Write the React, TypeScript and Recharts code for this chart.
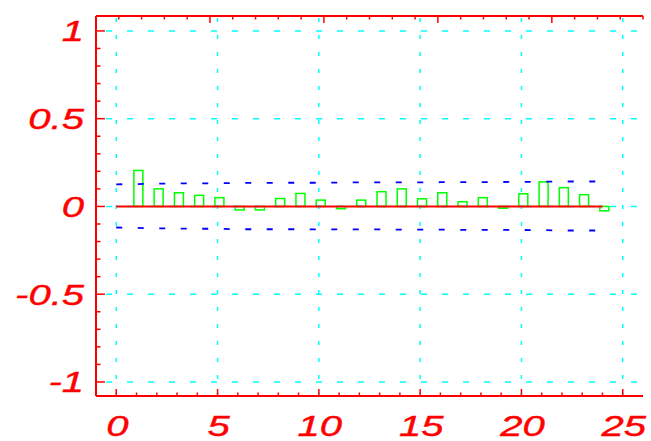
import React from "react";
import { ComposedChart, Bar, Line, XAxis, YAxis, ReferenceLine } from "recharts";

// lag values and sample autocorrelation
const lags = [0, 1, 2, 3, 4, 5, 6, 7, 8, 9, 10, 11, 12, 13, 14, 15, 16, 17, 18, 19, 20, 21, 22, 23, 24];
const acf = [
  null, 0.205, 0.1, 0.078, 0.063, 0.05, -0.02, -0.02, 0.045, 0.074, 0.036, -0.013, 0.036,
  0.084, 0.1, 0.044, 0.078, 0.027, 0.05, -0.01, 0.072, 0.14, 0.107, 0.067, -0.025,
];
// confidence bounds
const upper = [
  0.126, 0.127, 0.13, 0.131, 0.131, 0.132, 0.134, 0.134, 0.135, 0.135, 0.135, 0.136, 0.137,
  0.137, 0.137, 0.137, 0.138, 0.138, 0.138, 0.139, 0.14, 0.141, 0.142, 0.142, 0.142,
];
const lower = [
  -0.12, -0.122, -0.125, -0.126, -0.127, -0.127, -0.13, -0.13, -0.13, -0.13, -0.131, -0.131,
  -0.131, -0.131, -0.132, -0.132, -0.132, -0.133, -0.133, -0.134, -0.134, -0.135, -0.137, -0.137, -0.137,
];

const xTicks = [0, 1, 2, 3, 4, 5, 6, 7, 8, 9, 10, 11, 12, 13, 14, 15, 16, 17, 18, 19, 20, 21, 22, 23, 24, 25];
const yTicks = [-1, -0.9, -0.8, -0.7, -0.6, -0.5, -0.4, -0.3, -0.2, -0.1, 0, 0.1, 0.2, 0.3, 0.4, 0.5, 0.6, 0.7, 0.8, 0.9, 1];
const xGrid = [0, 5, 10, 15, 20, 25];
const yGrid = [-1, -0.5, 0, 0.5, 1];

const data = lags.map((lag, i) => ({ lag, acf: acf[i], upper: upper[i], lower: lower[i] }));

const RED = "#ff0000";
const FONT = "'Liberation Sans', Arial, sans-serif";

const isMajorX = (v: number) => v % 5 === 0;
const isMajorY = (v: number) => Math.abs(v * 2 - Math.round(v * 2)) < 1e-9;

const labelProps = {
  fill: RED,
  stroke: RED,
  strokeWidth: 0.4,
  fontSize: 29,
  fontStyle: "italic" as const,
  fontFamily: FONT,
};

function BottomTick({ x, y, payload }: any) {
  const v = payload.value;
  const major = isMajorX(v);
  return (
    <g>
      <line x1={x} x2={x} y1={y} y2={y - (major ? 7 : 3.5)} stroke={RED} strokeWidth={1.5} />
      {major && (
        <text transform={`translate(${x + 1},${y + 40}) scale(1.38,1)`} textAnchor="middle" {...labelProps}>
          {v}
        </text>
      )}
    </g>
  );
}

function TopTick({ x, y, payload }: any) {
  const major = isMajorX(payload.value);
  return <line x1={x} x2={x} y1={y} y2={y + (major ? 7 : 3.5)} stroke={RED} strokeWidth={1.5} />;
}

function LeftTick({ x, y, payload }: any) {
  const v = payload.value;
  const major = isMajorY(v);
  return (
    <g>
      <line x1={x} x2={x + (major ? 9 : 4.5)} y1={y} y2={y} stroke={RED} strokeWidth={1.5} />
      {major && (
        <text transform={`translate(${x - 12},${y + 10.5}) scale(1.38,1)`} textAnchor="end" {...labelProps}>
          {String(v)}
        </text>
      )}
    </g>
  );
}

function RightTick({ x, y, payload }: any) {
  const major = isMajorY(payload.value);
  return <line x1={x} x2={x - (major ? 9 : 4.5)} y1={y} y2={y} stroke={RED} strokeWidth={1.5} />;
}

function HollowBar(props: any) {
  const { x, y, width, height } = props;
  if (height == null || width == null) return null;
  const top = Math.min(y, y + height);
  const h = Math.abs(height);
  return <rect x={x + 1.5} y={top} width={width} height={h} fill="none" stroke="#00ff00" strokeWidth={1.5} />;
}

export default function App() {
  return (
    <div style={{ position: "absolute", left: 0, top: 0, background: "#fff" }}>
      <ComposedChart width={651} height={441} data={data} margin={{ top: 16, right: 8, bottom: 0, left: 0 }}>
        {/* dotted cyan grid */}
        {xGrid.map((v) => (
          <ReferenceLine key={`gx${v}`} x={v} stroke="#00ffff" strokeWidth={1.5} strokeDasharray="4 13" />
        ))}
        {yGrid.map((v) => (
          <ReferenceLine key={`gy${v}`} y={v} stroke="#00ffff" strokeWidth={1.5} strokeDasharray="6 15" strokeDashoffset={11} />
        ))}

        <XAxis
          dataKey="lag"
          type="number"
          domain={[-1, 26]}
          allowDataOverflow
          ticks={xTicks}
          interval={0}
          height={45}
          tickSize={0}
          tickMargin={0}
          tickLine={false}
          axisLine={{ stroke: RED, strokeWidth: 2 }}
          tick={<BottomTick />}
        />
        <XAxis
          xAxisId="top"
          orientation="top"
          mirror
          type="number"
          domain={[-1, 26]}
          allowDataOverflow
          ticks={xTicks}
          interval={0}
          tickSize={0}
          tickMargin={0}
          tickLine={false}
          axisLine={{ stroke: RED, strokeWidth: 2 }}
          tick={<TopTick />}
        />
        <YAxis
          type="number"
          domain={[-1.08, 1.085]}
          allowDataOverflow
          ticks={yTicks}
          interval={0}
          width={96}
          tickSize={0}
          tickMargin={0}
          tickLine={false}
          axisLine={{ stroke: RED, strokeWidth: 2 }}
          tick={<LeftTick />}
        />
        <YAxis
          yAxisId="right"
          orientation="right"
          mirror
          type="number"
          domain={[-1.08, 1.085]}
          allowDataOverflow
          ticks={yTicks}
          interval={0}
          width={0}
          tickSize={0}
          tickMargin={0}
          tickLine={false}
          axisLine={{ stroke: RED, strokeWidth: 2 }}
          tick={<RightTick />}
        />

        <Bar dataKey="acf" barSize={9} shape={<HollowBar />} isAnimationActive={false} />
        <ReferenceLine segment={[{ x: 0, y: 0 }, { x: 24, y: 0 }]} stroke={RED} strokeWidth={2} />
        <Line
          dataKey="upper"
          type="linear"
          stroke="#0000ff"
          strokeWidth={1.8}
          strokeDasharray="6 15.5"
          dot={false}
          isAnimationActive={false}
        />
        <Line
          dataKey="lower"
          type="linear"
          stroke="#0000ff"
          strokeWidth={1.8}
          strokeDasharray="6 15.5"
          dot={false}
          isAnimationActive={false}
        />
      </ComposedChart>
    </div>
  );
}
